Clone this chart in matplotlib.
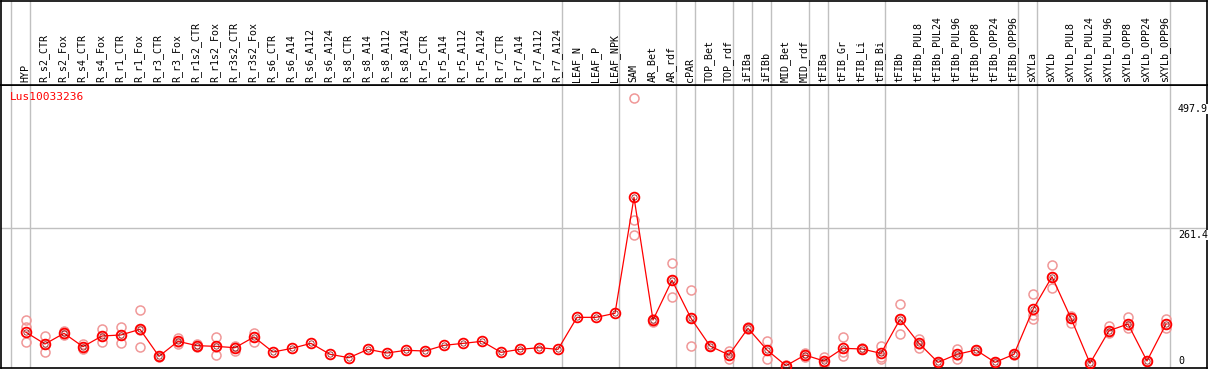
import numpy as np
import matplotlib
matplotlib.use('Agg')
import matplotlib.pyplot as plt

nan = np.nan

samples = ['HYP', 'R_s2_CTR', 'R_s2_Fox', 'R_s4_CTR', 'R_s4_Fox', 'R_r1_CTR', 'R_r1_Fox',
           'R_r3_CTR', 'R_r3_Fox', 'R_r1s2_CTR', 'R_r1s2_Fox', 'R_r3s2_CTR', 'R_r3s2_Fox',
           'R_s6_CTR', 'R_s6_A14', 'R_s6_A112', 'R_s6_A124', 'R_s8_CTR', 'R_s8_A14',
           'R_s8_A112', 'R_s8_A124', 'R_r5_CTR', 'R_r5_A14', 'R_r5_A112', 'R_r5_A124',
           'R_r7_CTR', 'R_r7_A14', 'R_r7_A112', 'R_r7_A124', 'LEAF_N', 'LEAF_P', 'LEAF_NPK',
           'SAM', 'AR_Bet', 'AR_rdf', 'cPAR', 'TOP_Bet', 'TOP_rdf', 'iFIBa', 'iFIBb',
           'MID_Bet', 'MID_rdf', 'tFIBa', 'tFIB_Gr', 'tFIB_Li', 'tFIB_Bi', 'tFIBb',
           'tFIBb_PUL8', 'tFIBb_PUL24', 'tFIBb_PUL96', 'tFIBb_OPP8', 'tFIBb_OPP24', 'tFIBb_OPP96',
           'sXYLa', 'sXYLb', 'sXYLb_PUL8', 'sXYLb_PUL24', 'sXYLb_PUL96', 'sXYLb_OPP8',
           'sXYLb_OPP24', 'sXYLb_OPP96']

mean_expr = [66.8, 44.9, 64.9, 39.9, 59.9, 61.8, 72.4, 21.8, 49.9, 41.8, 40.5, 38.0, 58.0,
             29.9, 36.8, 46.1, 25.6, 19.3, 34.9, 28.1, 33.1, 31.8, 42.4, 46.1, 49.9,
             29.3, 34.9, 38.0, 34.9, 94.8, 94.8, 102.3,
             319.4, 89.8, 164.1, 93.0, 41.2, 24.3, 74.3, 33.7, 4.3, 24.3, 13.1, 36.8, 35.6, 27.4,
             91.1, 46.1, 10.6, 25.6, 33.7, 10.6, 25.6,
             109.8, 170.8, 93.0, 8.8, 69.8, 82.3, 13.1, 82.3]

rep1 = [89.8, 59.9, 69.8, 44.9, 72.4, 76.7, 108.0, 22.5, 56.8, 44.3, 58.0, 42.0, 66.1,
        nan, nan, nan, nan, nan, nan, nan, nan, nan, nan, nan, nan, nan, nan, nan, nan,
        nan, nan, nan,
        504.7, 85.5, 195.9, 146.0, 42.0, 32.4, 76.0, 49.9, 5.5, 28.7, 21.2, 57.4, 36.5, 41.2,
        119.8, 54.9, 11.5, 36.2, 34.5, 11.0, 26.5,
        137.9, 192.7, 96.7, 9.5, 78.6, 94.8, 13.5, 91.1]
rep2 = [77.3, 29.3, 63.0, 35.6, 48.0, 46.1, 38.7, 21.0, 44.3, 40.0, 24.9, 32.4, 48.7,
        nan, nan, nan, nan, nan, nan, nan, nan, nan, nan, nan, nan, nan, nan, nan, nan,
        nan, nan, nan,
        277.0, 88.0, 133.4, 41.2, 40.5, 17.5, 72.5, 16.2, 3.0, 19.9, 8.0, 22.5, 35.0, 17.5,
        63.0, 38.0, 9.5, 17.5, 33.0, 10.0, 25.0,
        99.2, 149.1, 84.8, 8.0, 64.9, 74.3, 12.5, 74.3]
rep3 = [48.0, 44.9, 62.0, 39.5, 59.5, 62.0, 72.0, 22.0, 49.0, 41.5, 40.0, 38.5, 58.5,
        nan, nan, nan, nan, nan, nan, nan, nan, nan, nan, nan, nan, nan, nan, nan, nan,
        nan, nan, nan,
        248.3, 91.0, 164.0, 93.0, 41.2, 24.0, 74.3, 34.0, 4.3, 24.3, 11.0, 30.0, 35.5, 20.0,
        91.0, 45.5, 10.5, 24.0, 33.5, 10.5, 25.5,
        91.1, 170.5, 93.0, 8.8, 69.0, 80.0, 13.0, 82.0]

# first sample of each tissue group (grey separators)
group_starts = [0, 1, 29, 32, 35, 36, 38, 39, 40, 42, 43, 46, 53, 54, 61]
gene = 'Lus10033236'
ymax_label = 497.9
ymid_label = 261.4

W, H = 1209, 370
fig = plt.figure(figsize=(W / 100, H / 100), dpi=100)
font = 'DejaVu Sans Mono'

# pixel layout: sample i at x = 26 + 19*i, value 0 at y=368, 0.5344 px per unit
x0, dx = 26.0, 19.0
left_px, right_px, header_px, bottom_px = 1, 1207, 85, 368
k = 0.5344
xlim = ((left_px - x0) / dx, (right_px - x0) / dx)
ylim = (0, (bottom_px - header_px) / k)

ax = fig.add_axes([left_px / W, (H - bottom_px) / H, (right_px - left_px) / W,
                   (bottom_px - header_px) / H])
hd = fig.add_axes([left_px / W, (H - header_px) / H, (right_px - left_px) / W,
                   (header_px - 0.5) / H])

x = np.arange(len(samples))
grey = '#c0c0c0'
for a in (ax, hd):
    a.set_xlim(xlim)
    a.set_xticks([])
    a.set_yticks([])
    for g in group_starts:
        a.axvline(g - 15 / 19, color=grey, lw=1, zorder=0)
    for s in a.spines.values():
        s.set_linewidth(1.2)
        s.set_color('black')
ax.set_ylim(ylim)
hd.set_ylim(0, 1)

ax.axhline(ymid_label, color=grey, lw=1, zorder=0)

# replicates
for r in (rep1, rep2, rep3):
    ax.plot(x, r, 'o', ms=6.5, mfc='none', mec='#f09898', mew=1.1, zorder=2)
# mean profile
ax.plot(x, mean_expr, '-', color='red', lw=0.9, zorder=3)
ax.plot(x, mean_expr, 'o', ms=7, mfc='none', mec='red', mew=1.3, zorder=4)
ax.plot(x, mean_expr, 'o', ms=3.8, mfc='none', mec='#7a0000', mew=0.5, zorder=5)

ax.text((10 - x0) / dx, (bottom_px - 96.5) / k, gene, color='red', fontsize=8,
        family=font, va='center', ha='left', zorder=6)

lx = (1178 - x0) / dx
for v, lab in [(ymax_label, '497.9'), (ymid_label, '261.4')]:
    ax.text(lx, v - 3, lab, fontsize=7.2, family=font, va='top', ha='left',
            bbox=dict(fc='white', ec='none', pad=0), zorder=6)
ax.text(lx, 3, '0', fontsize=7.2, family=font, va='bottom', ha='left', zorder=6)

for i, s in enumerate(samples):
    hd.text(i - 0.05, 0.03, s, rotation=90, fontsize=7.2, family=font,
            ha='center', va='bottom')

fig.savefig('out.png', dpi=100)
